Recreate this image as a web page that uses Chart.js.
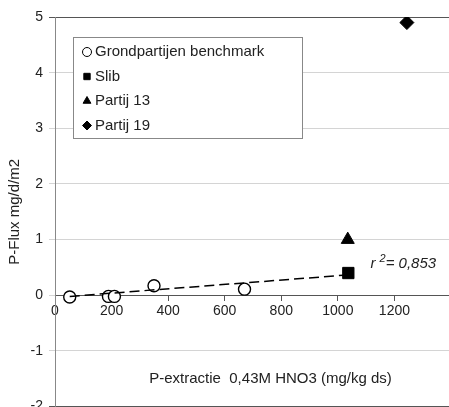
<!DOCTYPE html>
<html>
<head>
<meta charset="utf-8">
<style>
  body { margin: 0; width: 449px; height: 407px; overflow: hidden; background: #fff; }
  canvas { display: block; }
</style>
</head>
<body>
<canvas id="myChart" width="460" height="421"></canvas>
<script src="https://cdn.jsdelivr.net/npm/chart.js"></script>
<script>
    // data
    const benchX = [52, 189, 210, 350, 670];
    const benchY = [-0.03, -0.02, -0.02, 0.17, 0.11];
    const slibX = [1037];
    const slibY = [0.40];
    const partij13X = [1035];
    const partij13Y = [1.00];
    const partij19X = [1244];
    const partij19Y = [4.90];
    // trend line end points
    const trendX = [52, 1020];
    const trendY = [-0.02, 0.36];

    const legendNames = ['Grondpartijen benchmark', 'Slib', 'Partij 13', 'Partij 19'];
    const xTitle = 'P-extractie  0,43M HNO3 (mg/kg ds)';
    const yTitle = 'P-Flux mg/d/m2';
    const r2Text = '0,853';

    function pts(xs, ys) {
        return xs.map(function (x, i) { return {x: x, y: ys[i]}; });
    }

    const textColor = '#222';
    const font = 'Liberation Sans, Arial, sans-serif';

    // legend, axis title inside the plot and r2 label
    const extraText = {
        id: 'extraText',
        afterDraw: function (chart) {
            const ctx = chart.ctx;
            const xs = chart.scales.x;
            const ys = chart.scales.y;
            ctx.save();

            // legend box
            const bx = 73, by = 37, bw = 229, bh = 101;
            ctx.fillStyle = '#fff';
            ctx.fillRect(bx, by, bw, bh);
            ctx.strokeStyle = '#888';
            ctx.lineWidth = 1;
            ctx.strokeRect(bx + 0.5, by + 0.5, bw, bh);
            ctx.font = '15px ' + font;
            ctx.textBaseline = 'middle';
            ctx.textAlign = 'left';
            const styles = ['circle', 'rect', 'triangle', 'rectRot'];
            for (let i = 0; i < legendNames.length; i++) {
                const cy = by + 15 + i * 24.5;
                const mx = 87;
                ctx.fillStyle = i === 0 ? '#fff' : '#000';
                ctx.strokeStyle = '#000';
                Chart.helpers.drawPoint(ctx, {pointStyle: styles[i], radius: 4.5, borderWidth: 1}, mx, cy);
                ctx.fillStyle = textColor;
                ctx.fillText(legendNames[i], 95, cy);
            }

            // x axis title sits inside the plot, under the 0 line
            ctx.font = '15px ' + font;
            ctx.textAlign = 'center';
            ctx.fillStyle = textColor;
            ctx.fillText(xTitle, xs.getPixelForValue(762), ys.getPixelForValue(-1.5));

            // r2 label
            ctx.font = 'italic 15px ' + font;
            ctx.textAlign = 'left';
            let tx = xs.getPixelForValue(1115);
            const ty = ys.getPixelForValue(0.56);
            ctx.fillText('r', tx, ty);
            tx += ctx.measureText('r ').width;
            ctx.font = 'italic 11px ' + font;
            ctx.fillText('2', tx, ty - 5);
            tx += ctx.measureText('2').width;
            ctx.font = 'italic 15px ' + font;
            ctx.fillText('= ' + r2Text, tx, ty);

            ctx.restore();
        }
    };

    new Chart(document.getElementById('myChart'), {
        type: 'scatter',
        data: {
            datasets: [{
                label: 'trend',
                type: 'line',
                data: pts(trendX, trendY),
                borderColor: '#000',
                borderWidth: 1.5,
                borderDash: [10, 5],
                pointRadius: 0,
                fill: false
            }, {
                label: legendNames[0],
                data: pts(benchX, benchY),
                pointStyle: 'circle',
                pointRadius: 6,
                pointBackgroundColor: '#fff',
                pointBorderColor: '#000',
                pointBorderWidth: 1.4
            }, {
                label: legendNames[1],
                data: pts(slibX, slibY),
                pointStyle: 'rect',
                pointRadius: 8,
                pointBackgroundColor: '#000',
                pointBorderColor: '#000'
            }, {
                label: legendNames[2],
                data: pts(partij13X, partij13Y),
                pointStyle: 'triangle',
                pointRadius: 7.5,
                pointBackgroundColor: '#000',
                pointBorderColor: '#000'
            }, {
                label: legendNames[3],
                data: pts(partij19X, partij19Y),
                pointStyle: 'rectRot',
                pointRadius: 7,
                pointBackgroundColor: '#000',
                pointBorderColor: '#000'
            }]
        },
        options: {
            responsive: false,
            animation: false,
            layout: { padding: { top: 17, right: 3, bottom: 1, left: 6 } },
            plugins: {
                legend: { display: false },
                tooltip: { enabled: false }
            },
            scales: {
                x: {
                    type: 'linear',
                    position: { y: 0 },
                    min: 0,
                    max: 1400,
                    border: { color: '#555', width: 1 },
                    grid: {
                        drawOnChartArea: false,
                        drawTicks: true,
                        tickLength: 5,
                        color: '#555'
                    },
                    ticks: {
                        stepSize: 200,
                        padding: 2,
                        color: textColor,
                        font: { family: font, size: 14 },
                        maxRotation: 0,
                        callback: function (v) { return v === 1400 ? '' : v; }
                    }
                },
                y: {
                    type: 'linear',
                    position: 'left',
                    min: -2,
                    max: 5,
                    border: { color: '#888', width: 1 },
                    grid: {
                        tickLength: 6,
                        color: function (c) {
                            if (c.tick && (c.tick.value === 5 || c.tick.value === -2)) return '#555';
                            return '#d4d4d4';
                        }
                    },
                    ticks: {
                        stepSize: 1,
                        padding: 6,
                        color: textColor,
                        font: { family: font, size: 14 }
                    },
                    title: {
                        display: true,
                        text: yTitle,
                        color: textColor,
                        font: { family: font, size: 15 },
                        padding: { top: 0, bottom: 4 }
                    },
                    afterFit: function (scale) { scale.width = 49; }
                }
            }
        },
        plugins: [extraText]
    });
</script>
</body>
</html>
